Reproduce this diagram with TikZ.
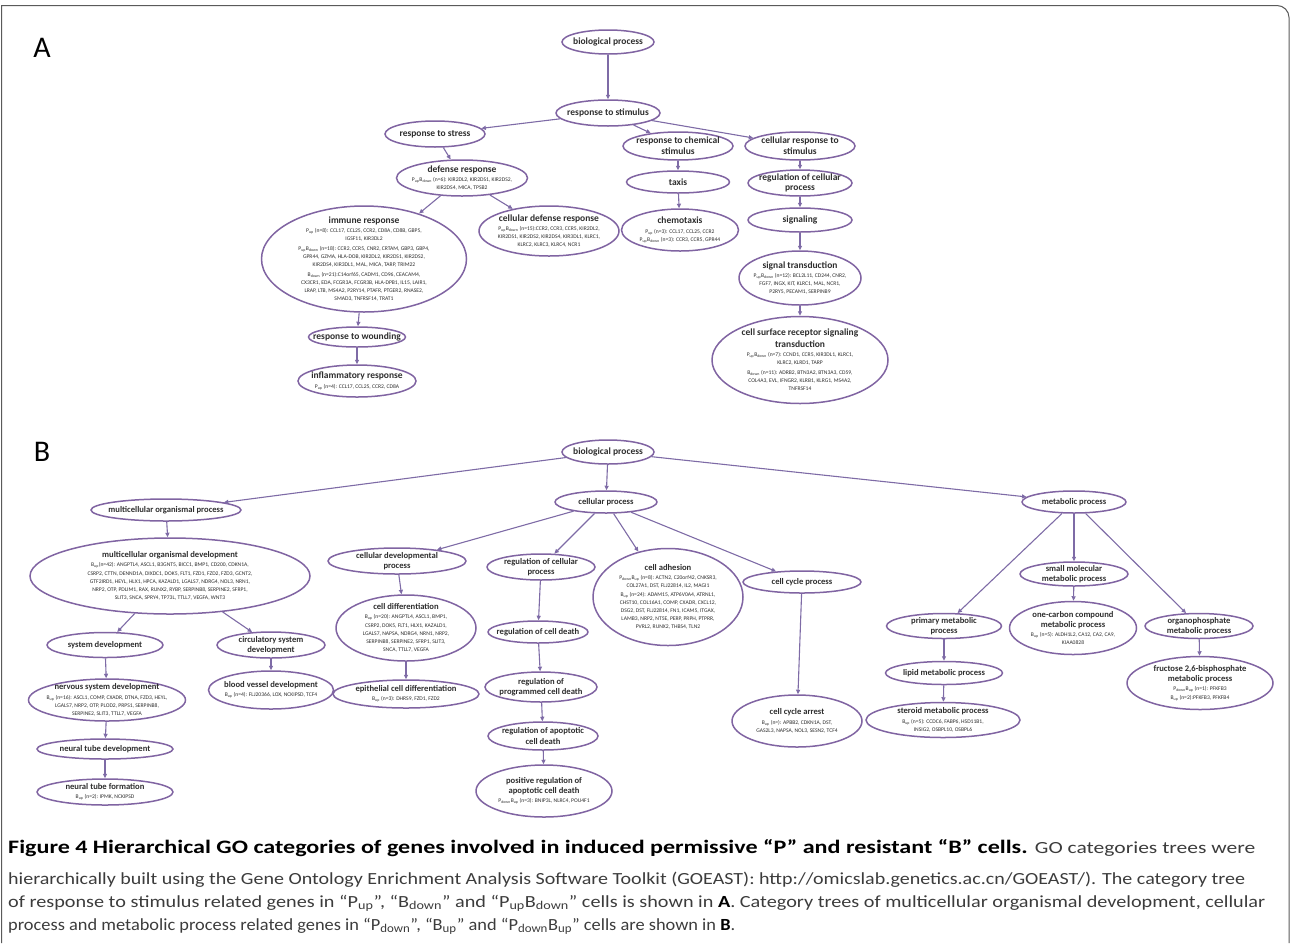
\documentclass[tikz,border=0pt]{standalone}
\usepackage{fontspec}
\usepackage{graphicx}
\setmainfont{Carlito}
\usetikzlibrary{shapes.geometric,arrows.meta}
\definecolor{gopurple}{HTML}{8064A2}
\definecolor{edgecol}{HTML}{7E6BA6}
\definecolor{txtcol}{HTML}{2E2E2E}
\definecolor{captxt}{HTML}{3C3C3C}
\definecolor{framecol}{HTML}{5A5A5A}
\newcommand\GT{\fontsize{9.5}{11}\selectfont\bfseries}
\newcommand\GTb{\fontsize{8.6}{10}\selectfont\bfseries}
\newcommand\GG{\fontsize{5.6}{8.2}\selectfont}
\newcommand\sUp{\textsubscript{up}}
\newcommand\sDn{\textsubscript{down}}
\newcommand\GOnode[6]{%
  \node[goell, minimum width=#4pt, minimum height=#5pt] (#1) at (#2,#3) {};
  \node[gotext] (#1-t) at (#1.center) {#6};}
\begin{document}
\begin{tikzpicture}[x=1pt,y=-1pt,
  goell/.style={ellipse, draw=gopurple, line width=1.5pt, inner sep=0pt, fill=white},
  gotext/.style={align=center, inner sep=0pt, font=\GG, text=txtcol},
  goedge/.style={draw=edgecol, line width=1.1pt, -{Triangle[length=4.5pt,width=4pt]}},
  panel/.style={font=\fontsize{30}{32}\selectfont, text=black, inner sep=0pt},
  capline/.style={anchor=base west, inner sep=0pt}]
\useasboundingbox (0,0) rectangle (1292,943);
% frame
\draw[framecol, line width=1pt] (1.5,943) -- (1.5,5.5) -- (1277,5.5) arc[start angle=90, end angle=0, radius=12pt] -- (1289,943);

% ---------------- Panel A ----------------
\node[panel] (labA) at (42,48) {A};
\GOnode{bioA}{608}{42}{92}{24}{{\GT biological process}}
\GOnode{stimA}{608}{113}{104}{26}{{\GT response to stimulus}}
\GOnode{stress}{435}{134}{100}{26}{{\GT response to stress}}
\GOnode{chem}{678}{146}{110}{28}{{\GT response to chemical}\\[2.5pt]{\GT stimulus}}
\GOnode{cellresp}{800}{146}{110}{28}{{\GT cellular response to}\\[2.5pt]{\GT stimulus}}
\GOnode{defense}{462}{178}{131}{36}{{\GT defense response}\\[1pt]P\sUp B\sDn{} (n=6): KIR2DL2, KIR2DS1, KIR2DS2,\\KIR2DS4, MICA, TPSB2}
\GOnode{taxis}{678}{182}{103}{22}{{\GT taxis}}
\GOnode{regcell}{800}{183}{104}{26}{{\GT regulation of cellular}\\[2.5pt]{\GT process}}
\GOnode{signaling}{800}{220}{104}{24}{{\GT signaling}}
\GOnode{chemotaxis}{680}{230}{117}{42}{{\GT chemotaxis}\\[1pt]P\sUp{} (n=3): CCL17, CCL25, CCR2\\P\sUp B\sDn{} (n=3): CCR3, CCR5, GPR44}
\GOnode{celldef}{549}{231}{140}{50}{{\GT cellular defense response}\\[1pt]P\sUp B\sDn{} (n=15):CCR2, CCR3, CCR5, KIR2DL2,\\KIR2DS1, KIR2DS2, KIR2DS4, KIR3DL1, KLRC1,\\KLRC2, KLRC3, KLRC4, NCR1}
\GOnode{immune}{364}{259}{205}{106}{{\GT immune response}\\[1pt]P\sUp{} (n=8): CCL17, CCL25, CCR2, CD8A, CD8B, GBP5,\\IGSF11, KIR3DL2\\[1.5pt]P\sUp B\sDn{} (n=18): CCR2, CCR5, CNR2, CRTAM, GBP3, GBP4,\\GPR44, GZMA, HLA-DOB, KIR2DL2, KIR2DS1, KIR2DS2,\\KIR2DS4, KIR3DL1, MAL, MICA, TARP, TRIM22\\[1.5pt]B\sDn{} (n=21):C14orf65, CADM1, CD96, CEACAM4,\\CX3CR1, EDA, FCGR3A, FCGR3B, HLA-DPB1, IL15, LAIR1,\\LRAP, LTB, MS4A2, P2RY14, PTAFR, PTGER2, RNASE2,\\SMAD3, TNFRSF14, TRAT1}
\GOnode{sigtrans}{800}{278}{122}{54}{{\GT signal transduction}\\[1pt]P\sUp B\sDn{} (n=12): BCL2L11, CD244, CNR2,\\FGF7, INGX, KIT, KLRC1, MAL, NCR1,\\P2RY5, PECAM1, SERPINB9}
\GOnode{cellsurf}{800}{360}{176}{87}{{\GT cell surface receptor signaling}\\[2.5pt]{\GT transduction}\\[1pt]P\sUp B\sDn{} (n=7): CCND1, CCR5, KIR3DL1, KLRC1,\\KLRC2, KLRD1, TARP\\[1.5pt]B\sDn{} (n=11): ADRB2, BTN3A2, BTN3A3, CD59,\\COL4A3, EVL, IFNGR2, KLRB1, KLRG1, MS4A2,\\TNFRSF14}
\GOnode{wounding}{357}{337}{97}{20}{{\GT response to wounding}}
\GOnode{inflam}{357}{381}{118}{32}{{\GT inflammatory response}\\[1pt]P\sUp{} (n=4): CCL17, CCL25, CCR2, CD8A}

\draw[goedge] (bioA) -- (stimA);
\draw[goedge] (stimA) -- (stress);
\draw[goedge] (stimA) -- (chem);
\draw[goedge] (stimA) -- (cellresp);
\draw[goedge] (stress) -- (defense);
\draw[goedge] (defense) -- (immune);
\draw[goedge] (defense) -- (celldef);
\draw[goedge] (chem) -- (taxis);
\draw[goedge] (taxis) -- (chemotaxis);
\draw[goedge] (cellresp) -- (regcell);
\draw[goedge] (regcell) -- (signaling);
\draw[goedge] (signaling) -- (sigtrans);
\draw[goedge] (sigtrans) -- (cellsurf);
\draw[goedge] (immune) -- (wounding);
\draw[goedge] (wounding) -- (inflam);

% ---------------- Panel B ----------------
\node[panel] (labB) at (42,452) {B};
\GOnode{bioB}{608}{452}{92}{24}{{\GT biological process}}
\GOnode{mop}{166}{510}{150}{22}{{\GTb multicellular organismal process}}
\GOnode{cp}{606}{502}{102}{22}{{\GTb cellular process}}
\GOnode{metab}{1074}{502}{104}{22}{{\GTb metabolic process}}
\GOnode{mod}{170}{576}{280}{76}{{\GTb multicellular organismal development}\\[1pt]B\sUp(n=42): ANGPTL4, ASCL1, B3GNT5, BICC1, BMP1, CD200, CDKN1A,\\CSRP2, CTTN, DENND1A, DIXDC1, DOK5, FLT1, FZD1, FZD2, FZD3, GCNT2,\\GTF2IRD1, HEYL, HLX1, HPCA, KAZALD1, LGALS7, NDRG4, NOL3, NRN1,\\NRP2, OTP, PDLIM1, RAX, RUNX2, RYBP, SERPINB8, SERPINE2, SFRP1,\\SLIT3, SNCA, SPRY4, TP73L, TTLL7, VEGFA, WNT3}
\GOnode{celldevp}{397}{561}{138}{26}{{\GTb cellular developmental}\\[2pt]{\GTb process}}
\GOnode{regcp}{541}{567}{108}{26}{{\GTb regulation of cellular}\\[2pt]{\GTb process}}
\GOnode{celladh}{668}{597}{150}{97}{{\GTb cell adhesion}\\[1pt]P\sDn B\sUp{} (n=8): ACTN2, C20orf42, CNKSR3,\\COL27A1, DST, FLJ22814, IL2, MAGI1\\B\sUp{} (n=24): ADAM15, ATP6V0A4, ATRNL1,\\CHST10, COL16A1, COMP, CXADR, CXCL12,\\DSG2, DST, FLJ22814, FN1, ICAM5, ITGAX,\\LAMB3, NRP2, NT5E, PERP, PRPH, PTPRR,\\PVRL2, RUNX2, THBS4, TLN2}
\GOnode{cellcyc}{802}{582}{118}{22}{{\GTb cell cycle process}}
\GOnode{celldiff}{406}{628}{140}{66}{{\GTb cell differentiation}\\[1pt]B\sUp{} (n=20): ANGPTL4, ASCL1, BMP1,\\CSRP2, DOK5, FLT1, HLX1, KAZALD1,\\LGALS7, NAPSA, NDRG4, NRN1, NRP2,\\SERPINB8, SERPINE2, SFRP1, SLIT3,\\SNCA, TTLL7, VEGFA}
\GOnode{regcd}{538}{632}{100}{22}{{\GTb regulation of cell death}}
\GOnode{sysdev}{105}{645}{116}{25}{{\GTb system development}}
\GOnode{circ}{271}{645}{108}{26}{{\GTb circulatory system}\\[2pt]{\GTb development}}
\GOnode{nervous}{107}{700}{157}{42}{{\GTb nervous system development}\\[1pt]B\sUp{} (n=16): ASCL1, COMP, CXADR, DTNA, FZD3, HEYL,\\LGALS7, NRP2, OTP, PLOD2, PRPS1, SERPINB8,\\SERPINE2, SLIT3, TTLL7, VEGFA}
\GOnode{blood}{271}{690}{125}{38}{{\GTb blood vessel development}\\[1pt]B\sUp{} (n=4): FLJ20366, LOX, NCKIPSD, TCF4}
\GOnode{epith}{406}{694}{146}{28}{{\GTb epithelial cell differentiation}\\[1pt]B\sUp{} (n=3): DHRS9, FZD1, FZD2}
\GOnode{regpcd}{541}{687}{112}{30}{{\GTb regulation of}\\[2pt]{\GTb programmed cell death}}
\GOnode{regacd}{543}{736}{110}{28}{{\GTb regulation of apoptotic}\\[2pt]{\GTb cell death}}
\GOnode{posreg}{544}{791}{136}{52}{{\GTb positive regulation of}\\[2pt]{\GTb apoptotic cell death}\\[1pt]P\sDn B\sUp{} (n=3): BNIP3L, NLRC4, POU4F1}
\GOnode{ntdev}{105}{749}{136}{20}{{\GTb neural tube development}}
\GOnode{ntform}{105}{792}{136}{26}{{\GTb neural tube formation}\\[1pt]B\sUp{} (n=2): IPMK, NCKIPSD}
\GOnode{cellarr}{797}{721}{130}{52}{{\GTb cell cycle arrest}\\[1pt]B\sUp{} (n=): APBB2, CDKN1A, DST,\\GAS2L3, NAPSA, NOL3, SESN2, TCF4}
\GOnode{smallmol}{1074}{574}{108}{24}{{\GTb small molecular}\\[2pt]{\GTb metabolic process}}
\GOnode{primary}{944}{626}{115}{25}{{\GTb primary metabolic}\\[2pt]{\GTb process}}
\GOnode{onecarbon}{1073}{628}{127}{53}{{\GTb one-carbon compound}\\[2pt]{\GTb metabolic process}\\[1pt]B\sUp{} (n=5): ALDH1L2, CA12, CA2, CA9,\\KIAA0828}
\GOnode{organo}{1199}{626}{108}{25}{{\GTb organophosphate}\\[2pt]{\GTb metabolic process}}
\GOnode{lipid}{944}{673}{117}{23}{{\GTb lipid metabolic process}}
\GOnode{steroid}{943}{720}{154}{35}{{\GTb steroid metabolic process}\\[1pt]B\sUp{} (n=5): CCDC6, FABP6, HSD11B1,\\INSIG2, OSBPL10, OSBPL6}
\GOnode{fructose}{1200}{683}{146}{53}{{\GTb fructose 2,6-bisphosphate}\\[2pt]{\GTb metabolic process}\\[1pt]P\sDn B\sUp{} (n=1): PFKFB3\\B\sUp{} (n=2):PFKFB3, PFKFB4}

\draw[goedge] (bioB) -- (mop);
\draw[goedge] (bioB) -- (cp);
\draw[goedge] (bioB) -- (metab);
\draw[goedge] (mop) -- (mod);
\draw[goedge] (mod) -- (sysdev);
\draw[goedge] (mod) -- (circ);
\draw[goedge] (sysdev) -- (nervous);
\draw[goedge] (nervous) -- (ntdev);
\draw[goedge] (ntdev) -- (ntform);
\draw[goedge] (circ) -- (blood);
\draw[goedge] (cp) -- (celldevp);
\draw[goedge] (cp) -- (regcp);
\draw[goedge] (cp) -- (celladh);
\draw[goedge] (cp) -- (cellcyc);
\draw[goedge] (celldevp) -- (celldiff);
\draw[goedge] (celldiff) -- (epith);
\draw[goedge] (regcp) -- (regcd);
\draw[goedge] (regcd) -- (regpcd);
\draw[goedge] (regpcd) -- (regacd);
\draw[goedge] (regacd) -- (posreg);
\draw[goedge] (cellcyc) -- (cellarr);
\draw[goedge] (metab) -- (primary);
\draw[goedge] (metab) -- (smallmol);
\draw[goedge] (metab) -- (organo);
\draw[goedge] (primary) -- (lipid);
\draw[goedge] (lipid) -- (steroid);
\draw[goedge] (smallmol) -- (onecarbon);
\draw[goedge] (organo) -- (fructose);

% ---------------- Caption ----------------
\node[capline] (cap1) at (8,853) {\resizebox{1247pt}{\height}{\fontsize{19}{22}\selectfont\textbf{Figure 4 Hierarchical GO categories of genes involved in induced permissive “P” and resistant “B” cells.} {\fontsize{17}{20}\selectfont\color{captxt}GO categories trees were}}};
\node[capline] (cap2) at (8,884) {\resizebox{1237pt}{\height}{\fontsize{17}{20}\selectfont\color{captxt}hierarchically built using the Gene Ontology Enrichment Analysis Software Toolkit (GOEAST): http://omicslab.genetics.ac.cn/GOEAST/). The category tree}};
\node[capline] (cap3) at (8,907) {\resizebox{1257pt}{\height}{\fontsize{17}{20}\selectfont\color{captxt}of response to stimulus related genes in “P\textsubscript{up}”, “B\textsubscript{down}” and “P\textsubscript{up}B\textsubscript{down}” cells is shown in {\color{black}\textbf{A}}. Category trees of multicellular organismal development, cellular}};
\node[capline] (cap4) at (8,930) {\resizebox{727pt}{\height}{\fontsize{17}{20}\selectfont\color{captxt}process and metabolic process related genes in “P\textsubscript{down}”, “B\textsubscript{up}” and “P\textsubscript{down}B\textsubscript{up}” cells are shown in {\color{black}\textbf{B}}.}};
\end{tikzpicture}
\end{document}
